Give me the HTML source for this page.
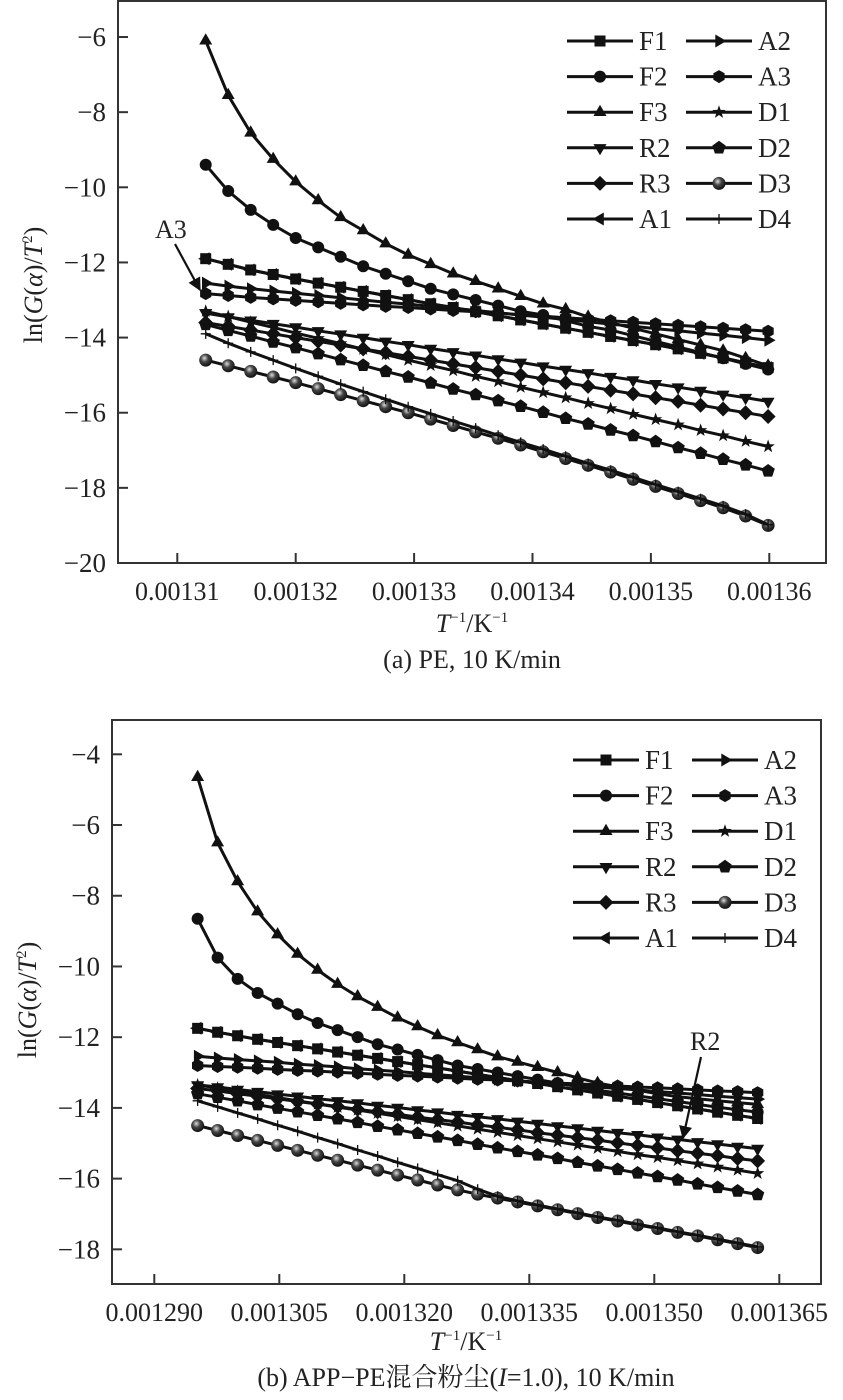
<!DOCTYPE html>
<html><head><meta charset="utf-8">
<style>
body{margin:0;background:#fff;}
svg{display:block;font-family:"Liberation Serif","Noto Serif CJK SC","Noto Sans CJK SC",serif;}
</style></head>
<body>
<svg id="chart" width="843" height="1400" viewBox="0 0 843 1400" xmlns="http://www.w3.org/2000/svg">
<defs>
<radialGradient id="sph" cx="0.4" cy="0.35" r="0.65"><stop offset="0" stop-color="#ddd"/><stop offset="0.45" stop-color="#444"/><stop offset="1" stop-color="#111"/></radialGradient>
<marker id="arr" viewBox="0 0 10 10" refX="9" refY="5" markerWidth="6" markerHeight="6" orient="auto"><path d="M0,0 L10,5 L0,10 z" fill="#111"/></marker>
</defs>
</svg>
<script>
// ---- Chart (a) data ----
const xA = [0.0013124,0.0013143,0.0013162,0.0013181,0.00132,0.0013219,0.0013238,0.0013257,0.0013276,0.0013295,0.0013314,0.0013333,0.0013352,0.0013371,0.001339,0.0013409,0.0013428,0.0013447,0.0013466,0.0013485,0.0013504,0.0013523,0.0013542,0.0013561,0.001358,0.0013599];
const aF1 = [-11.9,-12.05,-12.2,-12.32,-12.44,-12.55,-12.66,-12.77,-12.88,-12.99,-13.1,-13.2,-13.31,-13.42,-13.53,-13.64,-13.75,-13.86,-13.97,-14.08,-14.19,-14.3,-14.42,-14.54,-14.67,-14.8];
const aF2 = [-9.4,-10.1,-10.6,-11.0,-11.35,-11.6,-11.85,-12.1,-12.3,-12.5,-12.7,-12.85,-13.0,-13.15,-13.3,-13.4,-13.55,-13.7,-13.8,-13.95,-14.1,-14.25,-14.4,-14.55,-14.7,-14.85];
const aF3 = [-6.1,-7.55,-8.55,-9.25,-9.85,-10.35,-10.8,-11.15,-11.5,-11.8,-12.05,-12.3,-12.5,-12.7,-12.9,-13.1,-13.25,-13.45,-13.6,-13.75,-13.9,-14.05,-14.2,-14.35,-14.55,-14.75];
const aR2 = [-13.35,-13.45,-13.54,-13.63,-13.72,-13.82,-13.91,-14.0,-14.1,-14.19,-14.29,-14.38,-14.47,-14.57,-14.66,-14.76,-14.85,-14.94,-15.04,-15.13,-15.23,-15.32,-15.41,-15.51,-15.6,-15.7];
const aR3 = [-13.6,-13.7,-13.8,-13.9,-14.0,-14.1,-14.2,-14.3,-14.4,-14.5,-14.6,-14.7,-14.8,-14.9,-15.0,-15.1,-15.2,-15.3,-15.4,-15.5,-15.6,-15.7,-15.8,-15.9,-16.0,-16.1];
const aA1 = [-11.9,-12.05,-12.2,-12.32,-12.44,-12.55,-12.66,-12.77,-12.88,-12.99,-13.1,-13.2,-13.31,-13.42,-13.53,-13.64,-13.75,-13.86,-13.97,-14.08,-14.19,-14.3,-14.42,-14.54,-14.67,-14.8];
const aA2 = [-12.55,-12.63,-12.7,-12.76,-12.82,-12.88,-12.94,-13.0,-13.06,-13.11,-13.17,-13.22,-13.28,-13.34,-13.4,-13.46,-13.52,-13.58,-13.64,-13.7,-13.76,-13.82,-13.88,-13.94,-14.0,-14.07];
const aA3 = [-12.83,-12.88,-12.93,-12.97,-13.01,-13.05,-13.09,-13.13,-13.17,-13.2,-13.24,-13.28,-13.31,-13.35,-13.39,-13.43,-13.47,-13.51,-13.55,-13.59,-13.63,-13.67,-13.71,-13.75,-13.79,-13.83];
const aD1 = [-13.3,-13.44,-13.59,-13.73,-13.88,-14.02,-14.16,-14.31,-14.45,-14.6,-14.74,-14.88,-15.03,-15.17,-15.32,-15.46,-15.6,-15.75,-15.89,-16.04,-16.18,-16.32,-16.47,-16.61,-16.76,-16.9];
const aD2 = [-13.65,-13.81,-13.96,-14.12,-14.27,-14.43,-14.59,-14.74,-14.9,-15.05,-15.21,-15.37,-15.52,-15.68,-15.83,-15.99,-16.15,-16.3,-16.46,-16.61,-16.77,-16.93,-17.08,-17.24,-17.39,-17.55];
const aD3 = [-14.6,-14.75,-14.9,-15.05,-15.2,-15.36,-15.52,-15.68,-15.84,-16.0,-16.17,-16.34,-16.51,-16.68,-16.86,-17.04,-17.22,-17.4,-17.58,-17.77,-17.96,-18.15,-18.34,-18.53,-18.75,-19.0];
const aD4 = [-13.9,-14.15,-14.38,-14.6,-14.82,-15.03,-15.24,-15.44,-15.64,-15.84,-16.03,-16.22,-16.41,-16.6,-16.79,-16.97,-17.16,-17.35,-17.53,-17.72,-17.91,-18.1,-18.29,-18.48,-18.7,-18.98];
const xTicksA = [0.00131,0.00132,0.00133,0.00134,0.00135,0.00136];
const xTickLabelsA = ["0.00131","0.00132","0.00133","0.00134","0.00135","0.00136"];
const yTicksA = [-6,-8,-10,-12,-14,-16,-18,-20];

// ---- Chart (b) data ----
const xB = [0.0012952,0.0012976,0.0013,0.0013024,0.0013048,0.0013072,0.0013096,0.001312,0.0013144,0.0013168,0.0013192,0.0013216,0.001324,0.0013264,0.0013288,0.0013312,0.0013336,0.001336,0.0013384,0.0013408,0.0013432,0.0013456,0.001348,0.0013504,0.0013528,0.0013552,0.0013576,0.00136,0.0013624];
const bF1 = [-11.75,-11.86,-11.96,-12.06,-12.15,-12.24,-12.33,-12.42,-12.51,-12.6,-12.69,-12.78,-12.87,-12.96,-13.05,-13.14,-13.23,-13.31,-13.4,-13.49,-13.58,-13.67,-13.76,-13.85,-13.94,-14.03,-14.12,-14.21,-14.3];
const bF2 = [-8.65,-9.75,-10.35,-10.75,-11.05,-11.35,-11.6,-11.8,-12.0,-12.2,-12.35,-12.5,-12.65,-12.8,-12.9,-13.0,-13.1,-13.2,-13.3,-13.4,-13.5,-13.58,-13.66,-13.74,-13.82,-13.9,-13.98,-14.05,-14.12];
const bF3 = [-4.65,-6.5,-7.6,-8.45,-9.1,-9.65,-10.1,-10.5,-10.85,-11.15,-11.45,-11.7,-11.95,-12.15,-12.35,-12.55,-12.7,-12.85,-13.0,-13.15,-13.3,-13.4,-13.5,-13.6,-13.68,-13.74,-13.8,-13.85,-13.9];
const bR2 = [-13.35,-13.41,-13.48,-13.54,-13.61,-13.67,-13.74,-13.8,-13.86,-13.93,-13.99,-14.06,-14.12,-14.19,-14.25,-14.31,-14.38,-14.44,-14.51,-14.57,-14.64,-14.7,-14.76,-14.83,-14.89,-14.96,-15.02,-15.09,-15.15];
const bR3 = [-13.45,-13.52,-13.6,-13.67,-13.74,-13.82,-13.89,-13.96,-14.04,-14.11,-14.18,-14.26,-14.33,-14.4,-14.48,-14.55,-14.62,-14.7,-14.77,-14.84,-14.91,-14.99,-15.06,-15.13,-15.21,-15.28,-15.35,-15.43,-15.5];
const bA1 = [-11.75,-11.86,-11.96,-12.06,-12.15,-12.24,-12.33,-12.42,-12.51,-12.6,-12.69,-12.78,-12.87,-12.96,-13.05,-13.14,-13.23,-13.31,-13.4,-13.49,-13.58,-13.67,-13.76,-13.85,-13.94,-14.03,-14.12,-14.21,-14.3];
const bA2 = [-12.54,-12.59,-12.63,-12.67,-12.71,-12.76,-12.8,-12.84,-12.89,-12.93,-12.97,-13.02,-13.06,-13.1,-13.15,-13.19,-13.23,-13.28,-13.32,-13.36,-13.41,-13.45,-13.49,-13.54,-13.58,-13.62,-13.67,-13.71,-13.75];
const bA3 = [-12.8,-12.83,-12.85,-12.88,-12.91,-12.94,-12.96,-12.99,-13.02,-13.05,-13.08,-13.1,-13.13,-13.16,-13.19,-13.21,-13.24,-13.27,-13.3,-13.32,-13.35,-13.38,-13.41,-13.43,-13.46,-13.49,-13.52,-13.54,-13.57];
const bD1 = [-13.35,-13.44,-13.53,-13.62,-13.71,-13.8,-13.89,-13.98,-14.06,-14.15,-14.24,-14.33,-14.42,-14.51,-14.6,-14.69,-14.78,-14.87,-14.96,-15.05,-15.14,-15.23,-15.32,-15.4,-15.49,-15.58,-15.67,-15.76,-15.85];
const bD2 = [-13.6,-13.7,-13.8,-13.91,-14.01,-14.11,-14.21,-14.31,-14.41,-14.52,-14.62,-14.72,-14.82,-14.92,-15.03,-15.13,-15.23,-15.33,-15.43,-15.54,-15.64,-15.74,-15.84,-15.94,-16.04,-16.15,-16.25,-16.35,-16.45];
const bD3 = [-14.5,-14.64,-14.78,-14.92,-15.06,-15.2,-15.34,-15.48,-15.62,-15.76,-15.9,-16.04,-16.18,-16.32,-16.44,-16.55,-16.66,-16.77,-16.88,-16.99,-17.1,-17.2,-17.31,-17.41,-17.52,-17.62,-17.73,-17.84,-17.95];
const bD4 = [-13.8,-13.97,-14.14,-14.31,-14.49,-14.66,-14.84,-15.01,-15.19,-15.36,-15.54,-15.71,-15.89,-16.06,-16.3,-16.5,-16.63,-16.75,-16.86,-16.97,-17.08,-17.18,-17.29,-17.39,-17.5,-17.6,-17.71,-17.82,-17.93];
const xTicksB = [0.00129,0.001305,0.00132,0.001335,0.00135,0.001365];
const xTickLabelsB = ["0.001290","0.001305","0.001320","0.001335","0.001350","0.001365"];
const yTicksB = [-4,-6,-8,-10,-12,-14,-16,-18];

const seriesNames = ["F1","F2","F3","R2","R3","A1","A2","A3","D1","D2","D3","D4"];
const markerTypes = ["square","circle","tri-up","tri-down","diamond","tri-left","tri-right","hexagon","star","pentagon","sphere","plus"];
const seriesA = [aF1,aF2,aF3,aR2,aR3,aA1,aA2,aA3,aD1,aD2,aD3,aD4];
const seriesB = [bF1,bF2,bF3,bR2,bR3,bA1,bA2,bA3,bD1,bD2,bD3,bD4];

// axis functions
function xa(t){return 177.3+(t-0.00131)/0.00001*118.4;}
function ya(v){return 563-(v+20)*37.57;}
function xb(t){return 154.3+(t-0.00129)/0.000015*125;}
function yb(v){return 754.3-(v+4)*35.36;}

const NS="http://www.w3.org/2000/svg";
const svg=document.getElementById('chart');
function mk(tag,attrs,parent){const e=document.createElementNS(NS,tag);for(const k in attrs)e.setAttribute(k,attrs[k]);(parent||svg).appendChild(e);return e;}

function poly(n,r,rot,cx,cy){let p=[];for(let i=0;i<n;i++){const a=rot+i*2*Math.PI/n;p.push((cx+r*Math.cos(a)).toFixed(1)+','+(cy+r*Math.sin(a)).toFixed(1));}return p.join(' ');}
function marker(type,cx,cy,g){
  let e;
  if(type==='square')e=mk('rect',{x:cx-5.5,y:cy-5.5,width:11,height:11,fill:'#111'},g);
  else if(type==='circle')e=mk('circle',{cx:cx,cy:cy,r:6,fill:'#111'},g);
  else if(type==='tri-up')e=mk('polygon',{points:poly(3,7.5,-Math.PI/2,cx,cy),fill:'#111'},g);
  else if(type==='tri-down')e=mk('polygon',{points:poly(3,7.5,Math.PI/2,cx,cy),fill:'#111'},g);
  else if(type==='tri-left')e=mk('polygon',{points:poly(3,7.5,Math.PI,cx,cy),fill:'#111'},g);
  else if(type==='tri-right')e=mk('polygon',{points:poly(3,7.5,0,cx,cy),fill:'#111'},g);
  else if(type==='diamond')e=mk('polygon',{points:poly(4,7.5,0,cx,cy),fill:'#111'},g);
  else if(type==='hexagon')e=mk('polygon',{points:poly(6,6.5,Math.PI/2,cx,cy),fill:'#111'},g);
  else if(type==='pentagon')e=mk('polygon',{points:poly(5,7,-Math.PI/2,cx,cy),fill:'#111'},g);
  else if(type==='star'){let p=[];for(let i=0;i<10;i++){const a=-Math.PI/2+i*Math.PI/5;const r=i%2?2.8:7;p.push((cx+r*Math.cos(a)).toFixed(1)+','+(cy+r*Math.sin(a)).toFixed(1));}e=mk('polygon',{points:p.join(' '),fill:'#111'},g);}
  else if(type==='sphere')e=mk('circle',{cx:cx,cy:cy,r:6.5,fill:'url(#sph)'},g);
  else e=mk('path',{d:`M${cx-5},${cy}H${cx+5}M${cx},${cy-5}V${cy+5}`,stroke:'#111','stroke-width':1.3},g);
  
  
}

function text(str,x,y,attrs,parent){const t=mk('text',Object.assign({x:x,y:y,'font-size':26,fill:'#222'},attrs||{}),parent);t.textContent=str;return t;}

function drawChart(cfg){
  const g=mk('g',{});
  
  
  const box=mk('rect',{x:cfg.L,y:cfg.T,width:cfg.R-cfg.L,height:cfg.B-cfg.T,fill:'none',stroke:'#333','stroke-width':2},g);
  
  
  cfg.yTicks.forEach(v=>{
    const y=cfg.fy(v);
    const tk=mk('line',{x1:cfg.L,x2:cfg.L+10,y1:y,y2:y,stroke:'#333','stroke-width':2},g);
    
    
    const lb=text('\u2212'+Math.abs(v),cfg.L-12,y+9,{'text-anchor':'end','font-size':27},g);
    
    
  });
  cfg.xTicks.forEach((v,i)=>{
    const x=cfg.fx(v);
    const tk=mk('line',{x1:x,x2:x,y1:cfg.B,y2:cfg.B-10,stroke:'#333','stroke-width':2},g);
    
    
    const lb=text(cfg.xLabels[i],x,cfg.B+37,{'text-anchor':'middle'},g);
    
    
  });
  cfg.series.forEach((ys,si)=>{
    const sg=mk('g',{},g);
    
    
    const pts=cfg.xs.map((t,i)=>cfg.fx(t).toFixed(1)+','+cfg.fy(ys[i]).toFixed(1)).join(' ');
    const pl=mk('polyline',{points:pts,fill:'none',stroke:'#111','stroke-width':3,'stroke-linejoin':'round'},sg);
    
    
    cfg.xs.forEach((t,i)=>marker(markerTypes[si],cfg.fx(t),cfg.fy(ys[i]),sg));
  });
  const lg=mk('g',{},g);
  
  
  for(let i=0;i<12;i++){
    const col=i<6?0:1,row=i%6;
    const x0=cfg.legX+col*119,y=cfg.legY+row*35.6;
    const eg=mk('g',{},lg);
    
    
    mk('line',{x1:x0,x2:x0+66,y1:y,y2:y,stroke:'#111','stroke-width':3},eg);
    marker(markerTypes[i],x0+33,y,eg);
    text(seriesNames[i],x0+72,y+9,{'font-size':27},eg);
  }
  const yt=mk('text',{x:0,y:0,'font-size':26,fill:'#222','text-anchor':'middle',transform:`translate(${cfg.yTitleX},${cfg.yTitleY}) rotate(-90)`},g);
  yt.innerHTML='ln(<tspan font-style="italic">G</tspan>(<tspan font-style="italic">α</tspan>)/<tspan font-style="italic">T</tspan><tspan font-size="15" dy="-10">2</tspan><tspan dy="10">)</tspan>';
  
  
  const xt=mk('text',{x:cfg.xTitleX,y:cfg.xTitleY,'font-size':26,fill:'#222','text-anchor':'middle'},g);
  xt.innerHTML='<tspan font-style="italic">T</tspan><tspan font-size="15" dy="-10">−1</tspan><tspan dy="10">/K</tspan><tspan font-size="15" dy="-10">−1</tspan>';
  
  
  const cp=mk('text',{x:cfg.xTitleX,y:cfg.capY,'font-size':26,fill:'#222','text-anchor':'middle'},g);
  cp.innerHTML=cfg.caption;
  
  
  return g;
}

drawChart({name:'chart-a-pe',L:118,R:826,T:1,B:563,fx:xa,fy:ya,xs:xA,series:seriesA,xTicks:xTicksA,xLabels:xTickLabelsA,yTicks:yTicksA,legX:567,legY:41,yTitleX:42,yTitleY:285,xTitleX:472,xTitleY:632,capY:668,caption:'(a) PE, 10 K/min'});
drawChart({name:'chart-b-app-pe',L:112,R:821,T:720,B:1284,fx:xb,fy:yb,xs:xB,series:seriesB,xTicks:xTicksB,xLabels:xTickLabelsB,yTicks:yTicksB,legX:573,legY:760,yTitleX:36,yTitleY:1000,xTitleX:466,xTitleY:1350,capY:1386,caption:'(b) APP−PE混合粉尘(<tspan font-style="italic">I</tspan>=1.0), 10 K/min'});

const a1=text('A3',155,238,{});


const ar1=mk('line',{x1:175,y1:244,x2:200,y2:290,stroke:'#111','stroke-width':2.2,'marker-end':'url(#arr)'});


const a2=text('R2',690,1050,{});


const ar2=mk('line',{x1:701,y1:1057,x2:683,y2:1138,stroke:'#111','stroke-width':2.2,'marker-end':'url(#arr)'});


</script>
</body></html>
